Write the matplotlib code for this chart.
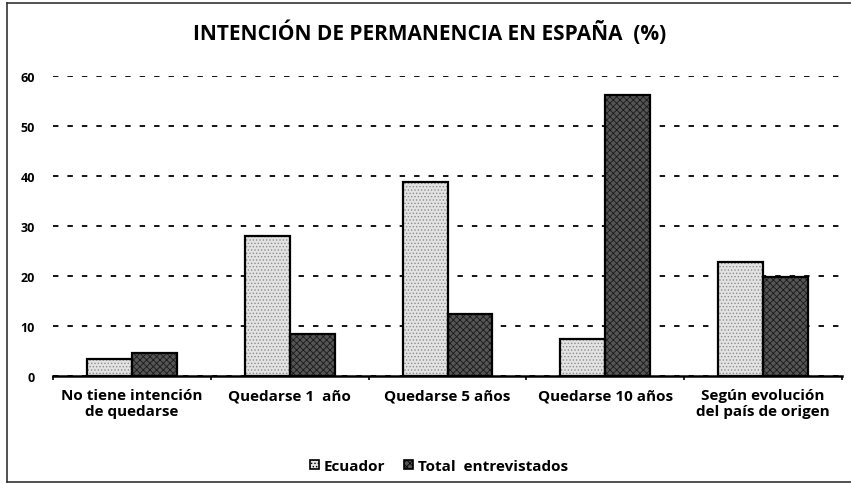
import matplotlib
matplotlib.use("Agg")
import matplotlib.pyplot as plt
import numpy as np
from matplotlib.patches import Patch
from matplotlib.lines import Line2D

categories = ["No tiene intención\nde quedarse", "Quedarse 1  año", "Quedarse 5 años",
              "Quedarse 10 años", "Según evolución\ndel país de origen"]
ecuador = [3.3, 28.0, 38.8, 7.3, 22.8]
total = [4.6, 8.4, 12.4, 56.2, 19.7]
series_names = ["Ecuador", "Total  entrevistados"]
yticks = [0, 10, 20, 30, 40, 50, 60]
title = "INTENCIÓN DE PERMANENCIA EN ESPAÑA  (%)"

plt.rcParams['font.family'] = ['Open Sans', 'DejaVu Sans']
plt.rcParams['hatch.linewidth'] = 0.6

W, H = 851, 485
fig = plt.figure(figsize=(W/100, H/100), dpi=100)
ax = fig.add_axes([53/W, 1-376.7/H, (842-53)/W, (376.7-76.5)/H])

x = np.arange(len(categories))
bw = 0.285
styles = [
    dict(face='#e3e3e3', hatch='.....', hcol='#8c8c8c'),
    dict(face='#555555', hatch='xxxxx', hcol='#1a1a1a'),
]
for vals, off, st in [(ecuador, -bw/2, styles[0]), (total, bw/2, styles[1])]:
    ax.bar(x+off, vals, bw, color=st['face'], hatch=st['hatch'], edgecolor=st['hcol'],
           linewidth=0, zorder=3)
    ax.bar(x+off, vals, bw, fill=False, edgecolor='black', linewidth=1.6, zorder=4)

ax.set_xlim(-0.5, len(categories)-0.5)
ax.set_ylim(0, 60)
ax.set_yticks(yticks)
ax.set_yticklabels([str(v) for v in yticks], fontsize=9, fontweight='bold')
ax.yaxis.grid(True, linestyle=(0, (3, 5)), color='black', linewidth=1.3, zorder=1)
ax.set_axisbelow(True)
ax.tick_params(axis='y', length=0, pad=13)
ax.set_xticks(x)
ax.set_xticklabels(categories, fontsize=11, fontweight='bold', linespacing=1.2)
ax.tick_params(axis='x', which='major', length=0, pad=9)
ax.set_xticks(np.arange(-0.5, len(categories)), minor=True)
ax.tick_params(axis='x', which='minor', length=3, width=1.2, direction='out')
for s in ['left', 'right', 'top']:
    ax.spines[s].set_visible(False)
ax.spines['bottom'].set_linewidth(1.8)
ax.spines['bottom'].set_zorder(5)

fig.text(430/W, 1-33/H, title, ha='center', va='center', fontsize=15, fontweight='bold')

handles = [Patch(facecolor=st['face'], hatch=st['hatch'], edgecolor='black', linewidth=1.2)
           for st in styles]
fig.legend(handles, series_names, loc='center', bbox_to_anchor=(439/W, 1-467/H), ncol=2,
           frameon=False, prop={'weight': 'bold', 'size': 11},
           handlelength=0.6, handleheight=0.6, handletextpad=0.3, columnspacing=1.2)

# figure frame (left, top, bottom)
fig.add_artist(Line2D([7/W, 7/W], [1-4/H, 1-483/H], color='#333333', linewidth=1.2))
fig.add_artist(Line2D([7/W, 1], [1-4/H, 1-4/H], color='#333333', linewidth=1.2))
fig.add_artist(Line2D([7/W, 1], [1-483/H, 1-483/H], color='#333333', linewidth=1.2))

fig.savefig("out.png", dpi=100)
